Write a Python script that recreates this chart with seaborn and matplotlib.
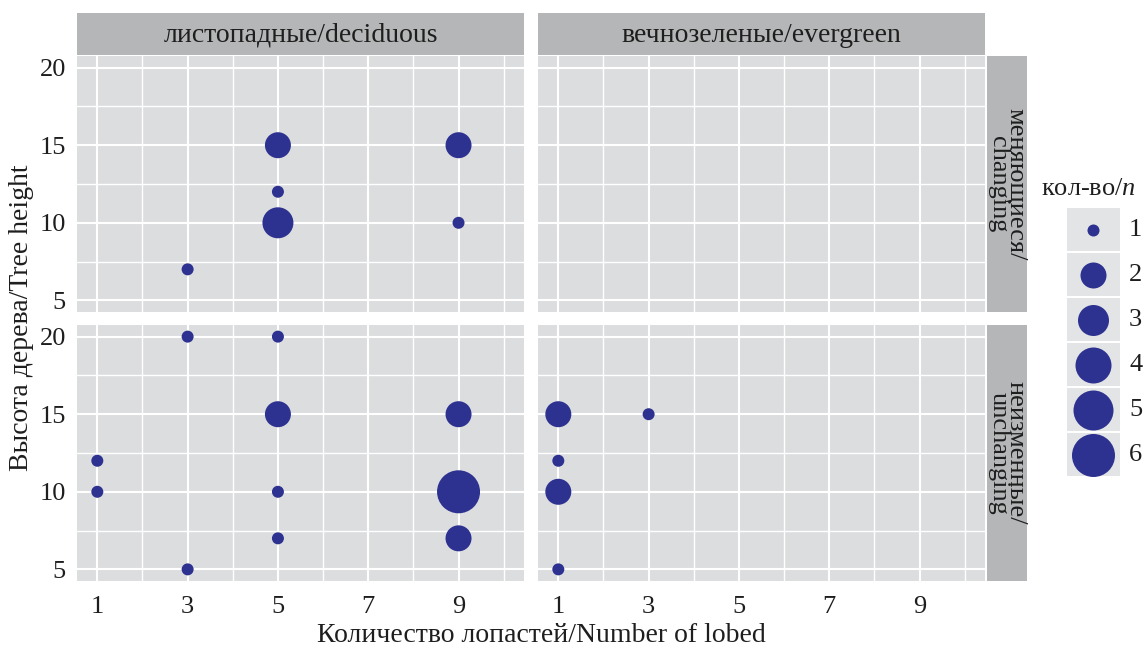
import matplotlib
matplotlib.use("Agg")
import matplotlib.pyplot as plt
import seaborn as sns
import pandas as pd
from matplotlib.patches import Rectangle
from matplotlib.ticker import FixedLocator

# ---------------- data ----------------
col_levels = ["deciduous", "evergreen"]
col_titles = ["листопадные/deciduous", "вечнозеленые/evergreen"]
row_levels = ["changing", "unchanging"]
row_titles = ["меняющиеся/\nchanging", "неизменные/\nunchanging"]

leaf_type = ["deciduous"] * 6 + ["deciduous"] * 11 + ["evergreen"] * 5
variability = ["changing"] * 6 + ["unchanging"] * 11 + ["unchanging"] * 5
lobes = [3, 5, 5, 5, 9, 9,
         1, 1, 3, 3, 5, 5, 5, 5, 9, 9, 9,
         1, 1, 1, 1, 3]
height = [7, 10, 12, 15, 10, 15,
          10, 12, 5, 20, 7, 10, 15, 20, 7, 10, 15,
          5, 10, 12, 15, 15]
count = [1, 3, 1, 2, 1, 2,
         1, 1, 1, 1, 1, 1, 2, 1, 2, 6, 2,
         1, 2, 1, 2, 1]

legend_values = [1, 2, 3, 4, 5, 6]
x_ticks = [1, 3, 5, 7, 9]
y_ticks = [5, 10, 15, 20]

df = pd.DataFrame({"leaf": leaf_type, "var": variability,
                   "lobes": lobes, "height": height, "n": count})

# ---------------- style ----------------
sns.set_theme(style="white")
plt.rcParams["font.family"] = ["Liberation Serif", "DejaVu Serif"]
plt.rcParams["mathtext.fontset"] = "custom"
plt.rcParams["mathtext.it"] = "Liberation Serif:italic"
plt.rcParams["mathtext.rm"] = "Liberation Serif"

W, H = 1147, 648
fig = plt.figure(figsize=(W / 100, H / 100), dpi=100)

POINT = "#2D3190"
PANEL = "#DCDDDE"
STRIP = "#B5B6B7"
TXT = "#1E1E1E"

# diameter in px for each count -> scatter size (pt^2)
diam_px = {1: 12, 2: 26, 3: 31, 4: 36, 5: 40, 6: 43}
size_map = {k: (0.72 * v) ** 2 for k, v in diam_px.items()}


def fax(x0, y0, x1, y1):
    return fig.add_axes([x0 / W, 1 - y1 / H, (x1 - x0) / W, (y1 - y0) / H])


col_x = [(77, 524), (538, 985)]
row_y = [(56, 312), (325, 581)]

for ri, rv in enumerate(row_levels):
    for ci, cv in enumerate(col_levels):
        x0, x1 = col_x[ci]
        y0, y1 = row_y[ri]
        ax = fax(x0, y0, x1, y1)
        ax.set_facecolor(PANEL)
        sub = df[(df["leaf"] == cv) & (df["var"] == rv)]
        if len(sub):
            sns.scatterplot(data=sub, x="lobes", y="height", size="n",
                            sizes=size_map, color=POINT, linewidth=0,
                            legend=False, ax=ax, zorder=3)
        ax.set_xlim(0.55, 10.45)
        ax.set_ylim(4.25, 20.75)
        ax.xaxis.set_major_locator(FixedLocator(x_ticks))
        ax.xaxis.set_minor_locator(FixedLocator([2, 4, 6, 8, 10]))
        ax.yaxis.set_major_locator(FixedLocator(y_ticks))
        ax.yaxis.set_minor_locator(FixedLocator([7.5, 12.5, 17.5]))
        ax.grid(True, which="major", color="white", linewidth=1.5, zorder=0)
        ax.grid(True, which="minor", color="white", linewidth=1.0, zorder=0)
        ax.set_axisbelow(True)
        for s in ax.spines.values():
            s.set_visible(False)
        ax.set_xlabel("")
        ax.set_ylabel("")
        ax.tick_params(which="minor", length=0)
        ax.tick_params(which="major", length=5, width=0.9, color="#333333",
                       labelsize=19, labelcolor=TXT)
        ax.tick_params(axis="x", pad=6)
        ax.tick_params(axis="y", pad=3)
        if ci == 0:
            ax.set_yticklabels([str(v) for v in y_ticks])
        else:
            ax.tick_params(axis="y", left=False, labelleft=False)
        if ri == 1:
            ax.set_xticklabels([str(v) for v in x_ticks])
        else:
            ax.tick_params(axis="x", bottom=False, labelbottom=False)

# top strips
for ci, t in enumerate(col_titles):
    x0, x1 = col_x[ci]
    sax = fax(x0, 13, x1, 55)
    sax.set_facecolor(STRIP)
    sax.set_xticks([]); sax.set_yticks([])
    for s in sax.spines.values():
        s.set_visible(False)
    sax.text(0.5, 0.47, t, ha="center", va="center", fontsize=20,
             color=TXT, transform=sax.transAxes)

# right strips
for ri, t in enumerate(row_titles):
    y0, y1 = row_y[ri]
    sax = fax(987, y0, 1027, y1)
    sax.set_facecolor(STRIP)
    sax.set_xticks([]); sax.set_yticks([])
    for s in sax.spines.values():
        s.set_visible(False)
    sax.text(0.5, 0.5, t, ha="center", va="center", fontsize=19,
             color=TXT, rotation=-90, linespacing=0.72,
             transform=sax.transAxes)

# axis labels
fig.text(541 / W, 1 - 635 / H, "Количество лопастей/Number of lobed",
         ha="center", va="center", fontsize=20, color=TXT)
fig.text(22 / W, 1 - 318 / H, "Высота дерева/Tree height",
         ha="center", va="center", fontsize=20, color=TXT, rotation=90)

# legend
lax = fax(1030, 140, 1147, 490)
lax.set_xlim(1030, 1147)
lax.set_ylim(490, 140)
lax.axis("off")
lax.text(1041, 189, "кол-во/$n$", ha="left", va="center", fontsize=19,
         color=TXT)
key_top = 207
key_h = 45
for i, v in enumerate(legend_values):
    yt = key_top + i * key_h
    lax.add_patch(Rectangle((1067, yt + 0.5), 53, key_h - 1.5,
                            facecolor="#E3E4E5", edgecolor="none"))
    lax.scatter([1093], [yt + key_h / 2], s=size_map[v], color=POINT,
                linewidths=0, zorder=3)
    lax.text(1129, yt + key_h / 2, str(v), ha="left", va="center",
             fontsize=19, color=TXT)

fig.savefig("out.png", dpi=100, facecolor="white")
